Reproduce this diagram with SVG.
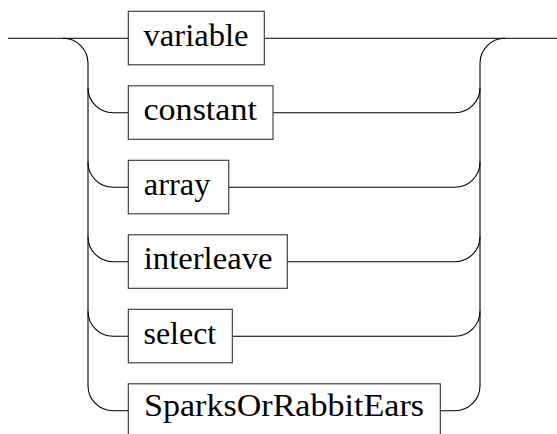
<svg xmlns="http://www.w3.org/2000/svg" width="557" height="434" viewBox="0 0 557 434">
<style>
.box{fill:#fff;stroke:#333;stroke-width:1.1}
.lbl{font-family:'Liberation Serif','DejaVu Serif','Times New Roman',serif;font-size:31px;fill:#000}
.ln{fill:none;stroke:#000;stroke-width:1.1}
</style>
<rect width="557" height="434" fill="#fff"/>
<g id="connectors">
<path class="ln" d="M8,38.3 H128.3"/>
<path class="ln" d="M264.3,38.3 H557"/>
<path class="ln" d="M63,38.3 A25,25 0 0 1 88,63.3 V385.8 A25,25 0 0 0 113,410.8 H128.3"/>
<path class="ln" d="M88,87.8 A25,25 0 0 0 113,112.8 H128.3"/>
<path class="ln" d="M88,162.3 A25,25 0 0 0 113,187.3 H128.3"/>
<path class="ln" d="M88,236.8 A25,25 0 0 0 113,261.8 H128.3"/>
<path class="ln" d="M88,311.3 A25,25 0 0 0 113,336.3 H128.3"/>
<path class="ln" d="M505,38.3 A25,25 0 0 0 480,63.3 V385.8 A25,25 0 0 1 455,410.8 H440.3"/>
<path class="ln" d="M273,112.8 H455 A25,25 0 0 0 480,87.8"/>
<path class="ln" d="M228.7,187.3 H455 A25,25 0 0 0 480,162.3"/>
<path class="ln" d="M287.3,261.8 H455 A25,25 0 0 0 480,236.8"/>
<path class="ln" d="M232.3,336.3 H455 A25,25 0 0 0 480,311.3"/>
</g>
<g id="variable">
<rect class="box" x="128.3" y="11.3" width="136" height="53.5"/>
<text class="lbl" x="143.5" y="45.5" textLength="105" lengthAdjust="spacingAndGlyphs">variable</text>
</g>
<g id="constant">
<rect class="box" x="128.3" y="85.8" width="144.7" height="53.5"/>
<text class="lbl" x="143.5" y="120" textLength="113.4" lengthAdjust="spacingAndGlyphs">constant</text>
</g>
<g id="array">
<rect class="box" x="128.3" y="160.3" width="100.4" height="53.5"/>
<text class="lbl" x="143.8" y="194.5" textLength="66.7" lengthAdjust="spacingAndGlyphs">array</text>
</g>
<g id="interleave">
<rect class="box" x="128.3" y="234.8" width="159" height="53.5"/>
<text class="lbl" x="143.8" y="269" textLength="128.7" lengthAdjust="spacingAndGlyphs">interleave</text>
</g>
<g id="select">
<rect class="box" x="128.3" y="309.3" width="104" height="53.5"/>
<text class="lbl" x="143.5" y="343.5" textLength="72.7" lengthAdjust="spacingAndGlyphs">select</text>
</g>
<g id="SparksOrRabbitEars">
<rect class="box" x="128.3" y="383.8" width="312" height="53.5"/>
<text class="lbl" x="144" y="416" textLength="280" lengthAdjust="spacingAndGlyphs">SparksOrRabbitEars</text>
</g>
</svg>
